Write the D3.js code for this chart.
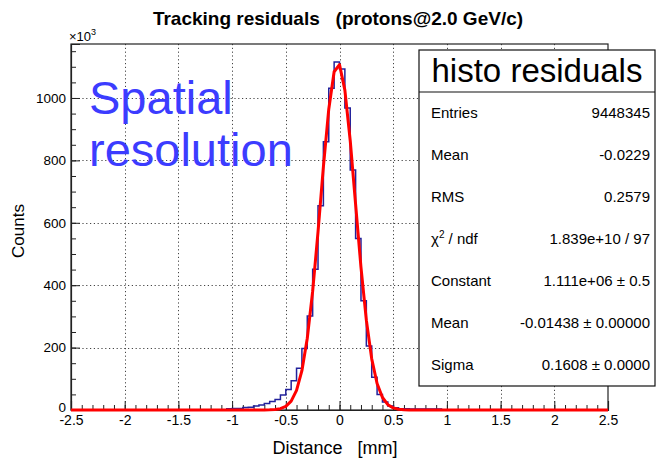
<!DOCTYPE html>
<html>
<head>
<meta charset="utf-8">
<script src="https://cdn.jsdelivr.net/npm/d3@7"></script>
<style>
  body { margin: 0; background: #fff; }
  text { font-family: "Liberation Sans", Arial, Helvetica, sans-serif; }
</style>
</head>
<body>
<div id="chart"></div>
<script>
// histogram: bins of 0.05 mm starting at -1.05, counts in units of 10^3
const histStart = -1.05;
const binWidth = 0.05;
const counts = [
  4, 5, 5, 8, 9, 13, 16, 21, 27, 34,
  48, 66, 94, 134, 197, 301, 451, 655, 860, 1031,
  1115, 1093, 968, 769, 550, 350, 205, 105, 50, 26,
  13, 7, 4, 4, 3, 3, 3, 3, 3, 3
];

// gaussian fit curve as drawn (x in mm, y in 10^3)
const fitX = [-2.5, -0.8, -0.75, -0.7, -0.65, -0.6, -0.55, -0.5, -0.45, -0.4, -0.35, -0.3,
  -0.25, -0.2, -0.15, -0.1, -0.05, 0, 0.05, 0.1, 0.15, 0.2, 0.25, 0.3, 0.35, 0.4,
  0.45, 0.5, 0.55, 0.6, 0.65, 0.7, 2.5];
const fitY = [0, 0, 0.03, 0.12, 0.45, 1.5, 4.3, 11.6, 28.3, 62.7, 126, 230,
  380, 571, 779, 964, 1084, 1107, 1025, 863, 659, 457, 288, 164, 85, 40,
  17, 6.7, 2.3, 0.75, 0.2, 0.05, 0];

const xTicks = [-2.5, -2, -1.5, -1, -0.5, 0, 0.5, 1, 1.5, 2, 2.5];
const yTicks = [0, 200, 400, 600, 800, 1000];

const statLabels = ["Entries", "Mean", "RMS", "χ2 / ndf", "Constant", "Mean", "Sigma"];
const statValues = ["9448345", "-0.0229", "0.2579", "1.839e+10 / 97",
  "1.111e+06 ± 0.5", "-0.01438 ± 0.00000", "0.1608 ± 0.0000"];

const W = 660, H = 459;
const L = 71, R = 608, T = 44, B = 410;

const svg = d3.select("#chart").append("svg")
  .attr("width", W).attr("height", H);

const x = d3.scaleLinear().domain([-2.5, 2.5]).range([L, R]);
const y = d3.scaleLinear().domain([0, 1173]).range([B, T]);

// dotted grid
const grid = svg.append("g")
  .attr("stroke", "#444").attr("stroke-width", 1).attr("stroke-dasharray", "1.2,2.6");
grid.selectAll(".gx").data(xTicks.slice(1, -1)).enter().append("line")
  .attr("x1", d => Math.round(x(d)) + 0.5).attr("x2", d => Math.round(x(d)) + 0.5)
  .attr("y1", B).attr("y2", T);
grid.selectAll(".gy").data(yTicks.slice(1)).enter().append("line")
  .attr("x1", L).attr("x2", R)
  .attr("y1", d => Math.round(y(d)) + 0.5).attr("y2", d => Math.round(y(d)) + 0.5);

// frame
svg.append("rect")
  .attr("x", L).attr("y", T).attr("width", R - L).attr("height", B - T)
  .attr("fill", "none").attr("stroke", "#222").attr("stroke-width", 1.2);

// x axis: major + minor ticks drawn inward
const xMinor = d3.axisBottom(x).tickValues(d3.range(-25, 26).map(i => i / 10))
  .tickSize(-5).tickFormat("");
const xMajor = d3.axisBottom(x).tickValues(xTicks).tickSize(-9).tickPadding(5)
  .tickFormat(d => String(d));
svg.append("g").attr("transform", `translate(0,${B})`).call(xMinor)
  .call(g => g.select(".domain").remove());
const gx = svg.append("g").attr("transform", `translate(0,${B})`).call(xMajor);
gx.select(".domain").attr("stroke", "#222").attr("stroke-width", 1.2);
gx.selectAll("text").attr("font-size", 14).attr("fill", "#000");

// y axis
const yMinor = d3.axisLeft(y).tickValues(d3.range(0, 1200, 50)).tickSize(-5).tickFormat("");
const yMajor = d3.axisLeft(y).tickValues(yTicks).tickSize(-9).tickPadding(5)
  .tickFormat(d => String(d));
svg.append("g").attr("transform", `translate(${L},0)`).call(yMinor)
  .call(g => g.select(".domain").remove());
const gy = svg.append("g").attr("transform", `translate(${L},0)`).call(yMajor);
gy.select(".domain").attr("stroke", "#222").attr("stroke-width", 1.2);
gy.selectAll("text").attr("font-size", 13.5).attr("fill", "#000");
gy.selectAll(".tick").filter(d => d === 0).select("text").attr("dy", "0.1em");
svg.selectAll(".tick line").attr("stroke", "#222");

// histogram outline
let p = `M${x(histStart)},${y(0)}`;
counts.forEach((c, i) => {
  p += `V${y(c)}H${x(histStart + (i + 1) * binWidth)}`;
});
p += `V${y(0)}`;
svg.append("path").attr("d", p)
  .attr("fill", "none").attr("stroke", "#22229c").attr("stroke-width", 1.5);

// fit
const line = d3.line().x((d, i) => x(fitX[i])).y(d => y(d));
svg.append("path").datum(fitY).attr("d", line)
  .attr("fill", "none").attr("stroke", "#ff0000").attr("stroke-width", 3)
  .attr("stroke-linejoin", "round");

// title + axis titles
svg.append("text").attr("x", 338).attr("y", 25).attr("text-anchor", "middle")
  .attr("font-size", 19).attr("font-weight", "bold").attr("fill", "#000")
  .style("white-space", "pre")
  .text("Tracking residuals   (protons@2.0 GeV/c)");

const exp = svg.append("text").attr("x", 69).attr("y", 41).attr("font-size", 13).attr("fill", "#000");
exp.append("tspan").text("×10");
exp.append("tspan").attr("dy", -6).attr("font-size", 9).text("3");

svg.append("text").attr("x", 335).attr("y", 454).attr("text-anchor", "middle")
  .attr("font-size", 18).attr("fill", "#000").style("white-space", "pre")
  .text("Distance   [mm]");

svg.append("text").attr("transform", "translate(24,231) rotate(-90)")
  .attr("text-anchor", "middle").attr("font-size", 17).attr("fill", "#000")
  .text("Counts");

// annotation
svg.append("text").attr("x", 89).attr("y", 114).attr("font-size", 47)
  .attr("fill", "#3c3cff").text("Spatial");
svg.append("text").attr("x", 89).attr("y", 166).attr("font-size", 47)
  .attr("fill", "#3c3cff").text("resolution");

// stats box
const sx0 = 419, sx1 = 655, sy0 = 50, sy1 = 386, sh = 92;
const stats = svg.append("g");
stats.append("rect").attr("x", sx0).attr("y", sy0).attr("width", sx1 - sx0).attr("height", sy1 - sy0)
  .attr("fill", "#fff").attr("stroke", "#111").attr("stroke-width", 1.2);
stats.append("line").attr("x1", sx0).attr("x2", sx1).attr("y1", sh).attr("y2", sh)
  .attr("stroke", "#111").attr("stroke-width", 1.2);
stats.append("text").attr("x", (sx0 + sx1) / 2).attr("y", 82).attr("text-anchor", "middle")
  .attr("font-size", 33).attr("fill", "#000").text("histo residuals");

const rowH = (sy1 - sh) / statLabels.length;
statLabels.forEach((lab, i) => {
  const cy = sh + rowH * (i + 0.5) + 5;
  const t = stats.append("text").attr("x", 431).attr("y", cy).attr("font-size", 15).attr("fill", "#000");
  if (lab.startsWith("χ2")) {
    t.append("tspan").text("χ");
    t.append("tspan").attr("dy", -6).attr("font-size", 10).text("2");
    t.append("tspan").attr("dy", 6).text(" / ndf");
  } else {
    t.text(lab);
  }
  stats.append("text").attr("x", 650).attr("y", cy).attr("text-anchor", "end")
    .attr("font-size", 15).attr("fill", "#000").text(statValues[i]);
});
</script>
</body>
</html>
